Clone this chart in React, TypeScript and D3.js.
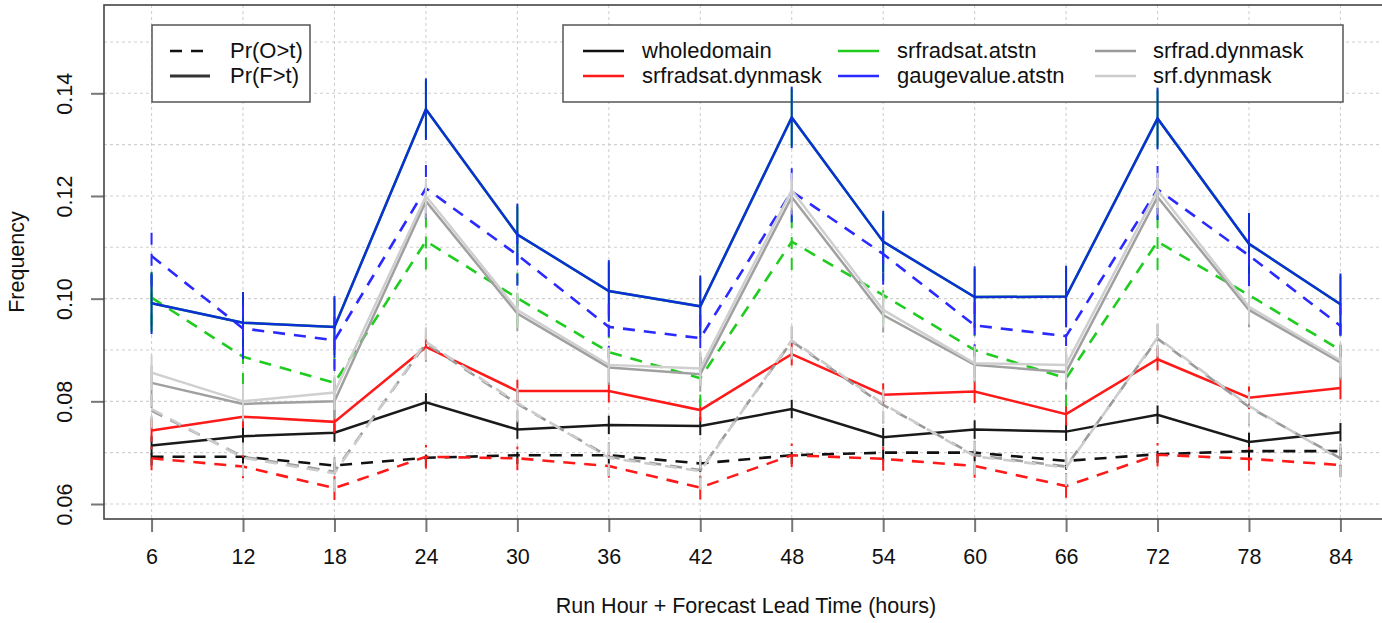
import React, { useRef, useEffect } from "react";
import * as d3 from "d3";

// lead times on the x axis
const hours = [6, 12, 18, 24, 30, 36, 42, 48, 54, 60, 66, 72, 78, 84];
const yTicks = [0.06, 0.08, 0.1, 0.12, 0.14];
const yGrid = [0.06, 0.07, 0.08, 0.09, 0.1, 0.11, 0.12, 0.13, 0.14, 0.15];

const seriesNames = [
  "wholedomain",
  "srfradsat.dynmask",
  "srfradsat.atstn",
  "gaugevalue.atstn",
  "srfrad.dynmask",
  "srf.dynmask",
];
const seriesColors = ["#111111", "#ff1a1a", "#1fcc1f", "#2a2aff", "#9a9a9a", "#cccccc"];
const solidColors = ["#1a1a1a", "#ff1a1a", "#1fcc1f", "#0e2fd8", "#a0a0a0", "#cfcfcf"];

// Pr(F>t)
const wholedomainF = [0.0714, 0.0732, 0.0739, 0.0798, 0.0745, 0.0754, 0.0752, 0.0785, 0.073, 0.0745, 0.0741, 0.0774, 0.0721, 0.074];
const srfradsatDynF = [0.0743, 0.077, 0.076, 0.0906, 0.082, 0.082, 0.0783, 0.0892, 0.0813, 0.0819, 0.0775, 0.0882, 0.0807, 0.0826];
const srfradsatAtstnF = [0.0991, 0.0953, 0.0945, 0.1369, 0.1125, 0.1015, 0.0985, 0.1353, 0.1111, 0.1003, 0.1004, 0.1351, 0.1107, 0.0989];
const gaugeAtstnF = [0.0991, 0.0953, 0.0945, 0.1369, 0.1125, 0.1015, 0.0985, 0.1353, 0.1111, 0.1003, 0.1004, 0.1351, 0.1107, 0.0989];
const srfradDynF = [0.0836, 0.0795, 0.08, 0.119, 0.0971, 0.0866, 0.0853, 0.1198, 0.0968, 0.0871, 0.0857, 0.1198, 0.0978, 0.0876];
const srfDynF = [0.0856, 0.08, 0.0817, 0.12, 0.0978, 0.0871, 0.0864, 0.1211, 0.0978, 0.0874, 0.0871, 0.1211, 0.0984, 0.088];

// Pr(O>t)
const wholedomainO = [0.0692, 0.0692, 0.0675, 0.069, 0.0695, 0.0695, 0.0679, 0.0695, 0.07, 0.07, 0.0684, 0.0697, 0.0703, 0.0703];
const srfradsatDynO = [0.0689, 0.0673, 0.0631, 0.0692, 0.0689, 0.0674, 0.0632, 0.0695, 0.0688, 0.0674, 0.0635, 0.0696, 0.0688, 0.0676];
const srfradsatAtstnO = [0.1002, 0.0887, 0.0836, 0.1112, 0.1001, 0.0896, 0.0845, 0.1111, 0.1007, 0.09, 0.0845, 0.1111, 0.1007, 0.09];
const gaugeAtstnO = [0.1083, 0.0942, 0.0919, 0.1215, 0.1085, 0.0945, 0.0923, 0.1209, 0.1087, 0.0948, 0.0927, 0.1213, 0.1084, 0.0947];
const srfradDynO = [0.0782, 0.0692, 0.0663, 0.0913, 0.0795, 0.0692, 0.0666, 0.0917, 0.0793, 0.0695, 0.0673, 0.0922, 0.0789, 0.0689];
const srfDynO = [0.0785, 0.069, 0.066, 0.0916, 0.0797, 0.069, 0.0664, 0.0919, 0.0795, 0.0693, 0.0671, 0.0924, 0.0791, 0.0687];

// half width of the confidence bars, per series
const ciF = [0.0018, 0.0022, 0.0055, 0.006, 0.0034, 0.0034];
const ciO = [0.0017, 0.0023, 0.0055, 0.006, 0.0036, 0.0036];

const legendTypes = ["Pr(O>t)", "Pr(F>t)"];

export default () => {
  const container = useRef(null);

  useEffect(() => {
    if (!container.current) return;
    const svg = d3.select(container.current);
    svg.selectAll("*").remove();

    const font = "'Liberation Sans', Arial, sans-serif";
    const left = 104, right = 1388, top = 5, bottom = 519;

    const x = d3.scaleLinear().domain([2.88, 87.12]).range([left, right]);
    const y = d3.scaleLinear().domain([0.05708, 0.1572]).range([bottom, top]);

    const fSeries = [wholedomainF, srfradsatDynF, srfradsatAtstnF, gaugeAtstnF, srfradDynF, srfDynF];
    const oSeries = [wholedomainO, srfradsatDynO, srfradsatAtstnO, gaugeAtstnO, srfradDynO, srfDynO];

    // grid
    const grid = svg.append("g").attr("stroke", "#d0d0d0").attr("stroke-width", 1.1).attr("stroke-dasharray", "3,3");
    grid.selectAll(".gx").data(hours).enter().append("line")
      .attr("x1", d => x(d)).attr("x2", d => x(d)).attr("y1", top).attr("y2", bottom);
    grid.selectAll(".gy").data(yGrid).enter().append("line")
      .attr("x1", left).attr("x2", right).attr("y1", d => y(d)).attr("y2", d => y(d));

    // axes
    const xAxis = svg.append("g").attr("transform", `translate(0,${bottom})`)
      .call(d3.axisBottom(x).tickValues(hours).tickSize(13).tickPadding(17).tickFormat(d => String(d)));
    xAxis.select(".domain").remove();
    xAxis.selectAll("line").attr("stroke", "#777").attr("stroke-width", 2);
    xAxis.selectAll("text").attr("font-family", font).attr("font-size", 21.5).attr("fill", "#111");

    const yAxis = svg.append("g").attr("transform", `translate(${left},0)`)
      .call(d3.axisLeft(y).tickValues(yTicks).tickSize(13).tickFormat(d3.format(".2f")));
    yAxis.select(".domain").remove();
    yAxis.selectAll("line").attr("stroke", "#777").attr("stroke-width", 2);
    yAxis.selectAll("text")
      .attr("font-family", font).attr("font-size", 21.5).attr("fill", "#111")
      .attr("text-anchor", "middle").attr("x", 0).attr("y", -32).attr("dy", 0)
      .attr("transform", "rotate(-90)");

    svg.append("rect").attr("x", left).attr("y", top).attr("width", right - left).attr("height", bottom - top)
      .attr("fill", "none").attr("stroke", "#444").attr("stroke-width", 1.6);

    svg.append("text").attr("x", (left + right) / 2).attr("y", 613).attr("text-anchor", "middle")
      .attr("font-family", font).attr("font-size", 21.5).attr("fill", "#111")
      .text("Run Hour + Forecast Lead Time (hours)");
    svg.append("text").attr("transform", `translate(24,${(top + bottom) / 2}) rotate(-90)`)
      .attr("text-anchor", "middle").attr("font-family", font).attr("font-size", 21.5).attr("fill", "#111")
      .text("Frequency");

    // legends
    const rowY = [51, 76];
    const leg1 = svg.append("g");
    leg1.append("rect").attr("x", 152).attr("y", 25).attr("width", 158).attr("height", 77)
      .attr("fill", "#fff").attr("stroke", "#555").attr("stroke-width", 1.5);
    legendTypes.forEach((t, i) => {
      leg1.append("line").attr("x1", 170).attr("x2", 210).attr("y1", rowY[i]).attr("y2", rowY[i])
        .attr("stroke", i === 0 ? "#111" : "#333").attr("stroke-width", i === 0 ? 2.4 : 2.8)
        .attr("stroke-dasharray", i === 0 ? "12,9" : null);
      leg1.append("text").attr("x", 230).attr("y", rowY[i] + 7).attr("font-family", font)
        .attr("font-size", 22).attr("fill", "#111").text(t);
    });

    const leg2 = svg.append("g");
    leg2.append("rect").attr("x", 563).attr("y", 25).attr("width", 780).attr("height", 77)
      .attr("fill", "#fff").attr("stroke", "#555").attr("stroke-width", 1.5);
    const colLine = [583, 838, 1095];
    const colText = [642, 897, 1153];
    seriesNames.forEach((name, i) => {
      const c = Math.floor(i / 2), r = i % 2;
      leg2.append("line").attr("x1", colLine[c]).attr("x2", colLine[c] + 41)
        .attr("y1", rowY[r]).attr("y2", rowY[r])
        .attr("stroke", seriesColors[i]).attr("stroke-width", 2.6);
      leg2.append("text").attr("x", colText[c]).attr("y", rowY[r] + 7).attr("font-family", font)
        .attr("font-size", 22).attr("fill", "#111").text(name);
    });

    // lines and confidence bars
    const line = d3.line<number>().x((d, i) => x(hours[i])).y(d => y(d));
    const plot = svg.append("g").attr("fill", "none");
    seriesNames.forEach((name, s) => {
      const g = plot.append("g");
      g.selectAll(".ciF").data(fSeries[s]).enter().append("line")
        .attr("x1", (d, i) => x(hours[i])).attr("x2", (d, i) => x(hours[i]))
        .attr("y1", d => y(d - ciF[s])).attr("y2", d => y(d + ciF[s]))
        .attr("stroke", solidColors[s]).attr("stroke-width", 2);
      g.selectAll(".ciO").data(oSeries[s]).enter().append("line")
        .attr("x1", (d, i) => x(hours[i])).attr("x2", (d, i) => x(hours[i]))
        .attr("y1", d => y(d - ciO[s])).attr("y2", d => y(d + ciO[s]))
        .attr("stroke", seriesColors[s]).attr("stroke-width", 2).attr("stroke-dasharray", "12,9");
      g.append("path").attr("d", line(oSeries[s]))
        .attr("stroke", seriesColors[s]).attr("stroke-width", 2.6).attr("stroke-dasharray", "12,9");
      g.append("path").attr("d", line(fSeries[s]))
        .attr("stroke", solidColors[s]).attr("stroke-width", 2.5);
    });
  }, [container]);

  return (
    <div style={{ position: "absolute", left: 0, top: 0 }}>
      <svg
        ref={container}
        width={1382}
        height={623}
        style={{ display: "block", background: "#fff" }}
      />
    </div>
  );
};
